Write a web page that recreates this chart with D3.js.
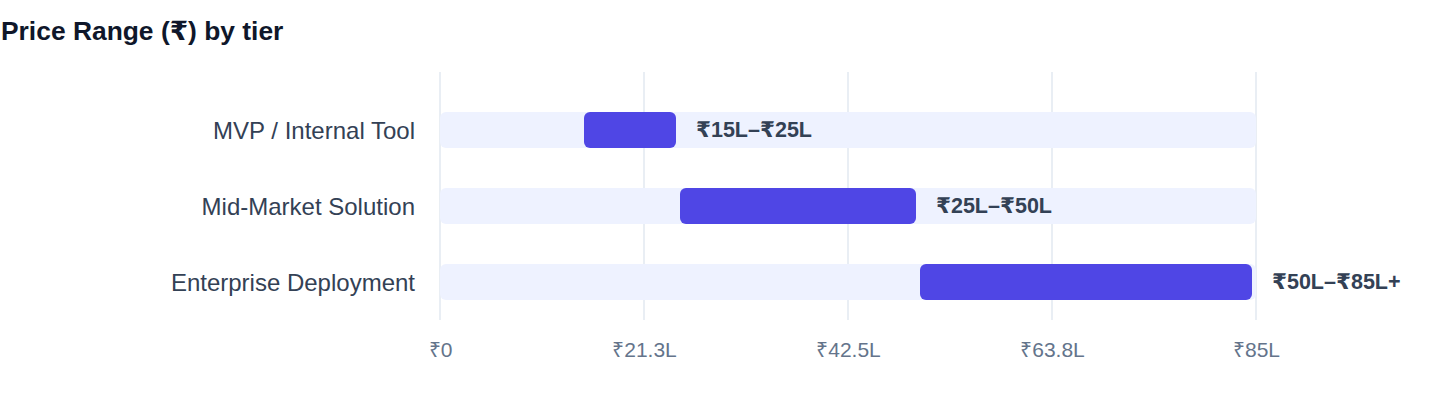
<!DOCTYPE html>
<html><head><meta charset="utf-8">
<script src="https://cdn.jsdelivr.net/npm/d3@7/dist/d3.min.js"></script>
<style>
html,body{margin:0;padding:0;background:#fff;}
svg{display:block;font-family:"Liberation Sans",Arial,Helvetica,"DejaVu Sans",sans-serif;}
</style></head>
<body>
<svg id="chart" width="1440" height="408"></svg>
<script>
const categories = ["MVP / Internal Tool", "Mid-Market Solution", "Enterprise Deployment"];
const rangeStart = [15, 25, 50];
const rangeEnd = [25, 50, 85];
const rangeLabels = ["₹15L–₹25L", "₹25L–₹50L", "₹50L–₹85L+"];
const domainMax = 85;
const tickValues = [0, 21.25, 42.5, 63.75, 85];
const tickLabels = ["₹0", "₹21.3L", "₹42.5L", "₹63.8L", "₹85L"];
const titleText = "Price Range (₹) by tier";

const svg = d3.select("#chart");
const x = d3.scaleLinear().domain([0, domainMax]).range([440, 1256]);
const y = d3.scaleBand().domain(categories).range([72, 320])
  .paddingInner(40/76).paddingOuter(30/76).align(2/3);

svg.append("text").attr("x", 1).attr("y", 39.5)
  .attr("font-size", 26.4).attr("font-weight", 700).attr("fill", "#0f172a")
  .text(titleText);

// grid
svg.append("g").selectAll("line").data(tickValues).join("line")
  .attr("x1", d => x(d)).attr("x2", d => x(d))
  .attr("y1", 72).attr("y2", 320)
  .attr("stroke", "#e2e8f0").attr("stroke-width", 1.5);

// x axis labels
const xAxis = d3.axisBottom(x).tickValues(tickValues)
  .tickFormat((d, i) => tickLabels[i]).tickSize(0).tickPadding(0);
const gx = svg.append("g").attr("transform", "translate(0,340)").call(xAxis);
gx.select(".domain").remove();
gx.selectAll("text").attr("font-size", 21).attr("fill", "#64748b")
  .attr("font-family", "Liberation Sans,Arial,sans-serif").attr("dy", "0.8em");

const data = categories.map((c, i) => ({c, s: rangeStart[i], e: rangeEnd[i], l: rangeLabels[i]}));

// category labels
svg.append("g").selectAll("text").data(data).join("text")
  .attr("x", 415).attr("y", d => y(d.c) + y.bandwidth()/2)
  .attr("text-anchor", "end").attr("dominant-baseline", "central")
  .attr("font-size", 24).attr("fill", "#334155").text(d => d.c);

// background tracks
svg.append("g").selectAll("rect").data(data).join("rect")
  .attr("x", x(0)).attr("width", x(domainMax) - x(0))
  .attr("y", d => y(d.c)).attr("height", y.bandwidth())
  .attr("rx", 6).attr("fill", "#eef2ff");

// range bars
svg.append("g").selectAll("rect").data(data).join("rect")
  .attr("x", d => x(d.s)).attr("width", d => x(d.e) - x(d.s) - 4)
  .attr("y", d => y(d.c)).attr("height", y.bandwidth())
  .attr("rx", 6).attr("fill", "#4f46e5");

// value labels
svg.append("g").selectAll("text").data(data).join("text")
  .attr("x", d => x(d.e) - 4 + 20).attr("y", d => y(d.c) + y.bandwidth()/2)
  .attr("dominant-baseline", "central")
  .attr("font-size", 21.5).attr("font-weight", 700).attr("fill", "#334155")
  .text(d => d.l);
</script>
</body></html>
